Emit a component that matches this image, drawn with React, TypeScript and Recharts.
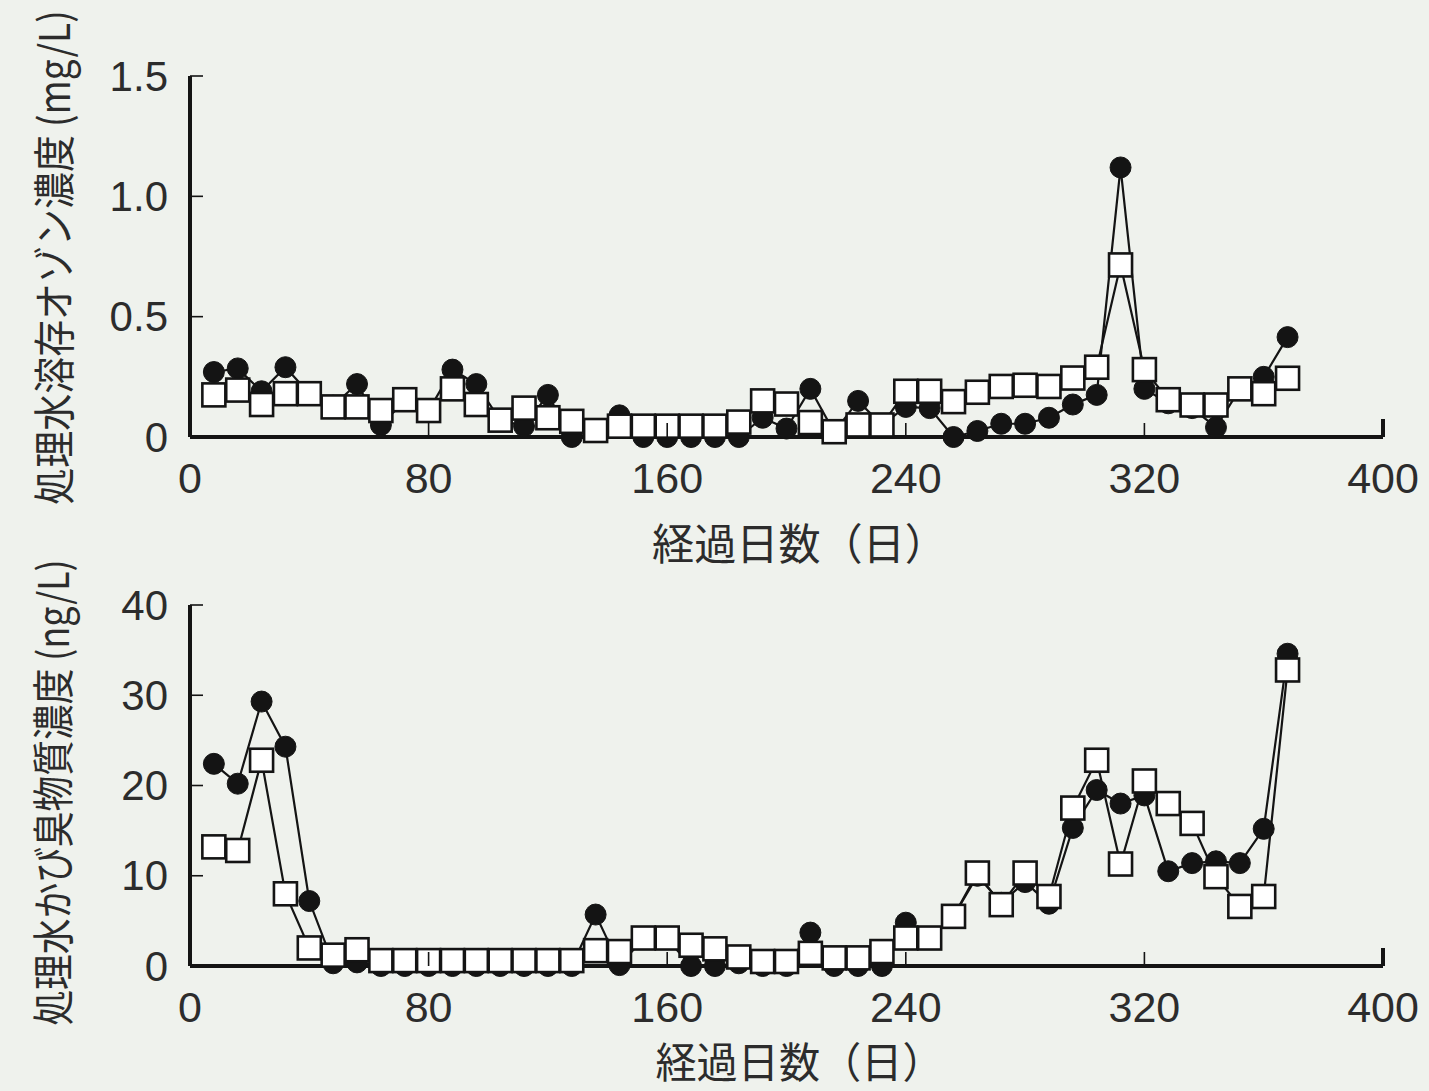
import React from 'react';
import { LineChart, Line, XAxis, YAxis } from 'recharts';

// ---------- data ----------
const days = [
  8, 16, 24, 32, 40, 48, 56, 64, 72, 80, 88, 96, 104, 112, 120, 128,
  136, 144, 152, 160, 168, 176, 184, 192, 200, 208, 216, 224, 232, 240,
  248, 256, 264, 272, 280, 288, 296, 304, 312, 320, 328, 336, 344, 352, 360, 368,
];

// dissolved ozone (mg/L): filled circles / open squares
const ozoneFilled = [
  0.27, 0.285, 0.19, 0.29, 0.18, 0.13, 0.22, 0.05, 0.15, 0.11, 0.28, 0.22, 0.07, 0.045, 0.175, 0.0,
  0.03, 0.09, 0.0, 0.0, 0.0, 0.0, 0.0, 0.08, 0.035, 0.2, 0.02, 0.15, 0.05, 0.125,
  0.12, 0.0, 0.025, 0.055, 0.055, 0.08, 0.135, 0.175, 1.12, 0.2, 0.14, 0.12, 0.04, 0.2, 0.25, 0.415,
];
const ozoneOpen = [
  0.175, 0.195, 0.135, 0.18, 0.18, 0.125, 0.125, 0.11, 0.155, 0.11, 0.2, 0.135, 0.07, 0.12, 0.08, 0.065,
  0.027, 0.045, 0.045, 0.045, 0.045, 0.045, 0.062, 0.15, 0.137, 0.06, 0.022, 0.05, 0.05, 0.19,
  0.19, 0.147, 0.186, 0.21, 0.215, 0.21, 0.245, 0.29, 0.715, 0.28, 0.155, 0.133, 0.133, 0.2, 0.18, 0.244,
];

// musty odor compounds (ng/L): filled circles / open squares
const odorFilled = [
  22.4, 20.2, 29.3, 24.3, 7.2, 0.3, 0.4, 0, 0, 0, 0, 0, 0, 0, 0, 0,
  5.7, 0.1, 3.0, 3.0, 0, 0, 0.3, 0, 0, 3.7, 0, 0, 0, 4.8,
  3.0, 5.5, 10.0, 7.0, 9.3, 6.9, 15.3, 19.5, 18.0, 18.9, 10.5, 11.4, 11.6, 11.4, 15.2, 34.6,
];
const odorOpen = [
  13.2, 12.8, 22.8, 8.0, 2.0, 1.2, 1.8, 0.6, 0.6, 0.6, 0.6, 0.6, 0.6, 0.6, 0.6, 0.6,
  1.7, 1.6, 3.1, 3.1, 2.3, 1.9, 1.0, 0.5, 0.5, 1.4, 0.9, 0.9, 1.6, 3.1,
  3.1, 5.5, 10.3, 6.8, 10.3, 7.7, 17.5, 22.8, 11.3, 20.5, 18.0, 15.8, 9.9, 6.6, 7.7, 32.8,
];

const xTicks = [0, 80, 160, 240, 320, 400];
const ozoneTicks = [0, 0.5, 1.0, 1.5];
const ozoneTickLabels = ['0', '0.5', '1.0', '1.5'];
const odorTicks = [0, 10, 20, 30, 40];
const odorTickLabels = ['0', '10', '20', '30', '40'];

const xLabel = '経過日数（日）';
const ozoneYLabel = '処理水溶存オゾン濃度 (mg/L)';
const odorYLabel = '処理水かび臭物質濃度 (ng/L)';

const ozoneData = days.map((d, i) => ({ day: d, filled: ozoneFilled[i], open: ozoneOpen[i] }));
const odorData = days.map((d, i) => ({ day: d, filled: odorFilled[i], open: odorOpen[i] }));

// ---------- style ----------
const W = 1429;
const M_TOP = 76;
const M_RIGHT = 46;
const Y_AXIS_W = 190;
const PLOT_H = 361;
const PLOT_CX = 190 + (W - M_RIGHT - 190) / 2;
const INK = '#141414';
const TEXT = '#2c2c2c';
const FONT_NUM = '"Liberation Sans", Arial, Helvetica, sans-serif';
const FONT_JP = '"Noto Sans CJK JP", "Noto Sans", sans-serif';
const Y_TICK_MARGIN = 22;
const X_TICK_MARGIN = 41;

const CircleDot = (props: any) => {
  const { cx, cy } = props;
  if (cx == null || cy == null) return null;
  return <circle cx={cx} cy={cy} r={10.5} fill={INK} stroke={INK} strokeWidth={1} />;
};

const SquareDot = (props: any) => {
  const { cx, cy } = props;
  if (cx == null || cy == null) return null;
  return (
    <rect x={cx - 11.5} y={cy - 11.5} width={23} height={23} fill="#ffffff" stroke={INK} strokeWidth={2.6} />
  );
};

const YTick = (props: any) => {
  const { x, y, payload, labels, ticks } = props;
  const idx = ticks.indexOf(payload.value);
  const axisX = x + Y_TICK_MARGIN;
  return (
    <g>
      {payload.value !== 0 && (
        <line x1={axisX} x2={axisX + 13} y1={y} y2={y} stroke={INK} strokeWidth={1.6} />
      )}
      <text
        x={x}
        y={y}
        textAnchor="end"
        dominantBaseline="central"
        fontSize={42}
        fill={TEXT}
        fontFamily={FONT_NUM}
      >
        {idx >= 0 ? labels[idx] : String(payload.value)}
      </text>
    </g>
  );
};

const XTick = (props: any) => {
  const { x, y, payload } = props;
  const axisY = y - X_TICK_MARGIN;
  const isEnd = payload.value === 400;
  return (
    <g>
      {payload.value !== 0 && (
        <line
          x1={x}
          x2={x}
          y1={axisY}
          y2={axisY - (isEnd ? 18 : 14)}
          stroke={INK}
          strokeWidth={isEnd ? 4 : 1.6}
        />
      )}
      <text
        x={x}
        y={y}
        textAnchor="middle"
        dominantBaseline="central"
        fontSize={43}
        fill={TEXT}
        fontFamily={FONT_NUM}
      >
        {payload.value}
      </text>
    </g>
  );
};

const XLabel = (props: any) => {
  const { text, cy, fs } = props;
  const cx = PLOT_CX + 13;
  return (
    <text
      transform={`translate(${cx},${cy}) scale(0.98,1)`}
      x={0}
      y={0}
      textAnchor="middle"
      dominantBaseline="central"
      fontSize={fs}
      fill={TEXT}
      fontFamily={FONT_JP}
    >
      {text}
    </text>
  );
};

const YLabel = (props: any) => {
  const { text, shift, sx } = props;
  const cx = 51;
  const cy = M_TOP + PLOT_H / 2 + shift;
  return (
    <text
      transform={`translate(${cx},${cy}) rotate(-90) scale(${sx},1)`}
      x={0}
      y={0}
      textAnchor="middle"
      dominantBaseline="central"
      fontSize={42}
      fill={TEXT}
      fontFamily={FONT_JP}
    >
      {text}
    </text>
  );
};

type PanelProps = {
  data: any[];
  height: number;
  yMax: number;
  yTicks: number[];
  yLabels: string[];
  yTitle: string;
  yTitleShift: number;
  yTitleScale: number;
  xTitleY: number;
  xTitleSize: number;
};

const Panel = ({
  data, height, yMax, yTicks, yLabels, yTitle, yTitleShift, yTitleScale, xTitleY, xTitleSize,
}: PanelProps) => (
  <LineChart
    width={W}
    height={height}
    data={data}
    margin={{ top: M_TOP, right: M_RIGHT, left: 0, bottom: 0 }}
  >
    <XAxis
      dataKey="day"
      type="number"
      domain={[0, 400]}
      ticks={xTicks}
      interval={0}
      height={height - M_TOP - PLOT_H}
      tickSize={0}
      tickMargin={X_TICK_MARGIN}
      axisLine={{ stroke: INK, strokeWidth: 4 }}
      tickLine={false}
      tick={<XTick />}
      label={<XLabel text={xLabel} cy={xTitleY} fs={xTitleSize} />}
    />
    <YAxis
      type="number"
      domain={[0, yMax]}
      ticks={yTicks}
      interval={0}
      width={Y_AXIS_W}
      tickSize={0}
      tickMargin={Y_TICK_MARGIN}
      axisLine={{ stroke: INK, strokeWidth: 4 }}
      tickLine={false}
      tick={<YTick labels={yLabels} ticks={yTicks} />}
      label={<YLabel text={yTitle} shift={yTitleShift} sx={yTitleScale} />}
    />
    <Line
      dataKey="filled"
      stroke={INK}
      strokeWidth={2.2}
      dot={<CircleDot />}
      activeDot={false}
      isAnimationActive={false}
    />
    <Line
      dataKey="open"
      stroke={INK}
      strokeWidth={2.2}
      dot={<SquareDot />}
      activeDot={false}
      isAnimationActive={false}
    />
  </LineChart>
);

export default function App() {
  return (
    <div
      style={{
        position: 'absolute',
        left: 0,
        top: 0,
        width: W,
        height: 1091,
        background: '#eff2ed',
        overflow: 'hidden',
      }}
    >
      <div style={{ position: 'absolute', left: 0, top: 0 }}>
        <Panel
          data={ozoneData}
          height={585}
          yMax={1.5}
          yTicks={ozoneTicks}
          yLabels={ozoneTickLabels}
          yTitle={ozoneYLabel}
          yTitleShift={1}
          yTitleScale={0.88}
          xTitleY={541}
          xTitleSize={43}
        />
      </div>
      <div style={{ position: 'absolute', left: 0, top: 529 }}>
        <Panel
          data={odorData}
          height={562}
          yMax={40}
          yTicks={odorTicks}
          yLabels={odorTickLabels}
          yTitle={odorYLabel}
          yTitleShift={7}
          yTitleScale={0.85}
          xTitleY={531}
          xTitleSize={42}
        />
      </div>
    </div>
  );
}
